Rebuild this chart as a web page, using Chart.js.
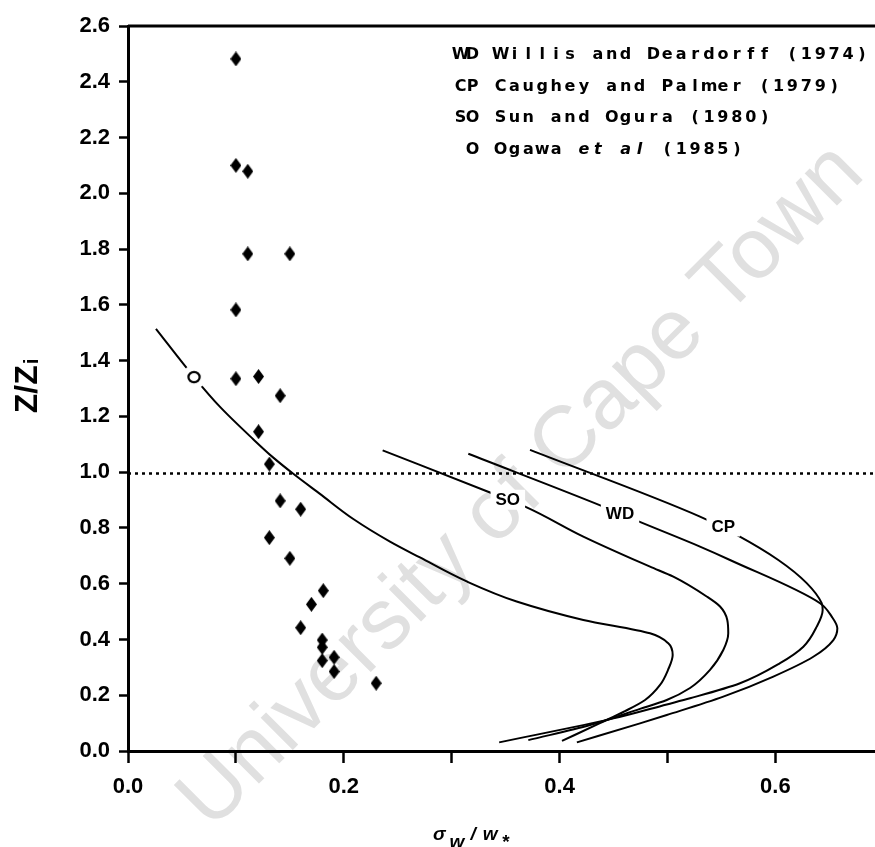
<!DOCTYPE html>
<html>
<head>
<meta charset="utf-8">
<script src="https://cdn.jsdelivr.net/npm/chart.js@4.4.1/dist/chart.umd.min.js"></script>
<style>
  html, body { margin: 0; padding: 0; background: #fff; }
  #wrap { width: 875px; height: 847px; }
</style>
</head>
<body>
<div id="wrap"><canvas id="c" width="875" height="847"></canvas></div>
<script>
// Observed vertical-velocity spread (diamonds): sigma_w / w* against z / z_i
const obsSigma  = [0.100, 0.100, 0.111, 0.111, 0.150, 0.100, 0.100, 0.121, 0.141, 0.121, 0.131, 0.141,
                   0.160, 0.131, 0.150, 0.181, 0.170, 0.160, 0.180, 0.180, 0.180, 0.191, 0.191, 0.230];
const obsHeight = [2.482, 2.100, 2.079, 1.783, 1.783, 1.582, 1.335, 1.343, 1.274, 1.145, 1.029, 0.897,
                   0.867, 0.765, 0.691, 0.575, 0.526, 0.442, 0.398, 0.372, 0.324, 0.336, 0.285, 0.243];

// Ogawa et al (1985)
const ogawaSigma = [0.0259, 0.0612, 0.0853, 0.1158, 0.1344, 0.1529, 0.1779, 0.2088, 0.2428, 0.2706, 0.3139,
                    0.3602, 0.4220, 0.4838, 0.5005, 0.5048, 0.5005, 0.4931, 0.4792, 0.4606, 0.4374, 0.4022];
const ogawaZ     = [1.514, 1.341, 1.234, 1.119, 1.053, 0.995, 0.922, 0.832, 0.751, 0.694, 0.608,
                    0.536, 0.470, 0.422, 0.387, 0.344, 0.291, 0.237, 0.183, 0.143, 0.100, 0.036];
const ogawaMark  = [0.0612, 1.341];

// Sun and Ogura (1980)
const soSigma = [0.236, 0.3355, 0.3695, 0.4220, 0.4838, 0.5054, 0.5363, 0.5487, 0.5554, 0.5563, 0.5517,
                 0.5394, 0.5209, 0.4993, 0.4745, 0.4282, 0.371];
const soZ     = [1.078, 0.927, 0.874, 0.769, 0.661, 0.625, 0.554, 0.518, 0.470, 0.422, 0.362,
                 0.291, 0.226, 0.183, 0.151, 0.093, 0.039];

// Willis and Deardorff (1974)
const wdSigma = [0.3154, 0.4405, 0.4715, 0.5301, 0.5579, 0.6413, 0.6522, 0.6574, 0.6537, 0.6351, 0.5981,
                 0.5517, 0.4993, 0.4745, 0.416];
const wdZ     = [1.066, 0.8765, 0.826, 0.733, 0.685, 0.530, 0.482, 0.440, 0.398, 0.338, 0.267,
                 0.195, 0.129, 0.099, 0.031];

// Caughey and Palmer (1979)
const cpSigma = [0.3726, 0.5301, 0.5641, 0.6027, 0.629, 0.6429, 0.6438, 0.6383, 0.6259, 0.6043, 0.5672,
                 0.5209, 0.4993, 0.450, 0.344];
const cpZ     = [1.080, 0.8407, 0.775, 0.685, 0.602, 0.530, 0.506, 0.446, 0.374, 0.315, 0.243,
                 0.189, 0.167, 0.117, 0.031];

// Inversion level (dotted line)
const inversionZ = 0.995;

// Axis ranges and ticks
const xMin = 0, xMax = 0.6923, xStep = 0.1;
const yMin = 0, yMax = 2.6, yStep = 0.2;

// In-plot curve tags: [text, sigma, z]
const curveTags = [['SO', 0.352, 0.901], ['WD', 0.456, 0.853], ['CP', 0.5517, 0.805]];

// Key in the upper right
const keyCodes = ['WD', 'CP', 'SO', 'O'];
const keyNames = ['Willis and Deardorff (1974)', 'Caughey and Palmer (1979)', 'Sun and Ogura (1980)', 'Ogawa |et al| (1985)'];

const pairs = (xs, ys) => xs.map((v, i) => ({ x: v, y: ys[i] }));

// Tall filled diamond marker
const diamond = (() => {
  const c = document.createElement('canvas');
  c.width = 11; c.height = 15;
  const g = c.getContext('2d');
  g.fillStyle = '#000';
  g.beginPath();
  g.moveTo(5.5, 0); g.lineTo(11, 7.5); g.lineTo(5.5, 15); g.lineTo(0, 7.5);
  g.closePath(); g.fill();
  return c;
})();

// Open "O" marker with a white halo that breaks the curve around it
const ringMark = (() => {
  const c = document.createElement('canvas');
  c.width = 26; c.height = 26;
  const g = c.getContext('2d');
  g.fillStyle = '#fff';
  g.beginPath(); g.arc(13, 13, 12, 0, Math.PI * 2); g.fill();
  g.strokeStyle = '#000'; g.lineWidth = 2.2;
  g.beginPath(); g.ellipse(13, 13, 5.6, 5.2, 0, 0, Math.PI * 2); g.stroke();
  return c;
})();

// Profiles are single-valued in height, so interpolate along the y axis
const curveStyle = {
  type: 'line', indexAxis: 'y', cubicInterpolationMode: 'monotone',
  borderColor: '#000', borderWidth: 2, pointRadius: 0, fill: false
};

const tickFont = { family: 'Liberation Sans', size: 22, weight: 'bold' };

const decorations = {
  id: 'decorations',
  beforeDraw(chart) {
    const ctx = chart.ctx;
    ctx.save();
    ctx.fillStyle = '#fff';
    ctx.fillRect(0, 0, chart.width, chart.height);
    // faint repository watermark
    ctx.translate(522, 487);
    ctx.rotate(-Math.PI / 4);
    ctx.fillStyle = 'rgb(224,224,224)';
    ctx.font = '86px "Liberation Sans"';
    ctx.textAlign = 'center';
    ctx.textBaseline = 'middle';
    ctx.fillText('University of Cape Town', 0, 0);
    ctx.restore();
  },
  afterDatasetsDraw(chart) {
    const ctx = chart.ctx;
    const xs = chart.scales.x, ys = chart.scales.y;
    ctx.save();
    // tags sitting in gaps of the model curves
    ctx.font = 'bold 17px "Liberation Sans"';
    ctx.textAlign = 'center';
    ctx.textBaseline = 'middle';
    curveTags.forEach(([t, sx, sz]) => {
      const px = xs.getPixelForValue(sx), py = ys.getPixelForValue(sz);
      const w = ctx.measureText(t).width + 10;
      ctx.fillStyle = '#fff';
      ctx.fillRect(px - w / 2, py - 10, w, 20);
      ctx.fillStyle = '#000';
      ctx.fillText(t, px, py + 1);
    });
    ctx.restore();
  },
  afterDraw(chart) {
    const ctx = chart.ctx;
    const a = chart.chartArea;
    const ys = chart.scales.y;
    ctx.save();
    // top frame line
    const yt = ys.getPixelForValue(yMax);
    ctx.strokeStyle = '#000';
    ctx.lineWidth = 3;
    ctx.beginPath(); ctx.moveTo(a.left, yt); ctx.lineTo(a.right, yt); ctx.stroke();

    // key, fixed-pitch lettering
    ctx.fillStyle = '#000';
    ctx.textBaseline = 'alphabetic';
    ctx.textAlign = 'center';
    const pitch = 13.9, codePitch = 12;
    keyCodes.forEach((code, r) => {
      const base = 59 + r * 31.7;
      ctx.font = 'bold 16px "DejaVu Sans"';
      for (let i = 0; i < code.length; i++) {
        const cx = 478 - (code.length - 1 - i) * codePitch - 5.5;
        ctx.fillText(code[i], cx, base);
      }
      const parts = keyNames[r].split('|');
      let k = 0;
      parts.forEach((part, pi) => {
        ctx.font = (pi % 2 === 1 ? 'italic ' : '') + 'bold 16px "DejaVu Sans"';
        for (let i = 0; i < part.length; i++, k++) {
          ctx.fillText(part[i], 495 + k * pitch + 5.5, base);
        }
      });
    });

    // y title: z / z_i
    ctx.save();
    ctx.translate(37, 386);
    ctx.rotate(-Math.PI / 2);
    ctx.textAlign = 'left';
    ctx.font = 'bold 32px "Liberation Sans"';
    const main = 'Z/Z';
    const wm = ctx.measureText(main).width;
    ctx.font = 'bold 20px "Liberation Sans"';
    const wi = ctx.measureText('i').width;
    const x0 = -(wm + wi + 1) / 2;
    ctx.font = 'bold 32px "Liberation Sans"';
    ctx.fillText(main, x0, 0);
    ctx.font = 'bold 20px "Liberation Sans"';
    ctx.fillText('i', x0 + wm + 1, 1);
    ctx.restore();

    // x title: sigma_w / w_*
    ctx.textAlign = 'left';
    let tx = 433;
    ctx.font = 'italic bold 19px "Liberation Sans"';
    const seq = [['σ', 0, 4], ['w', 8, 6], ['/', 0, 7], ['w', 0, 4], ['*', 8, 0]];
    seq.forEach(([ch, dy, gap]) => {
      ctx.fillText(ch, tx, 840 + dy);
      tx += ctx.measureText(ch).width + gap;
    });
    ctx.restore();
  }
};

new Chart(document.getElementById('c'), {
  type: 'scatter',
  data: {
    datasets: [
      { label: 'Ogawa marker', data: [{ x: ogawaMark[0], y: ogawaMark[1] }], pointStyle: ringMark, pointRadius: 13, order: 0 },
      { label: 'Observed', data: pairs(obsSigma, obsHeight), pointStyle: diamond, pointRadius: 7, order: 1 },
      Object.assign({ label: 'Ogawa et al (1985)', data: pairs(ogawaSigma, ogawaZ), order: 2 }, curveStyle),
      Object.assign({ label: 'Sun and Ogura (1980)', data: pairs(soSigma, soZ), order: 3 }, curveStyle),
      Object.assign({ label: 'Willis and Deardorff (1974)', data: pairs(wdSigma, wdZ), order: 4 }, curveStyle),
      Object.assign({ label: 'Caughey and Palmer (1979)', data: pairs(cpSigma, cpZ), order: 5 }, curveStyle),
      { type: 'line', label: 'z = z_i', data: [{ x: xMin, y: inversionZ }, { x: xMax, y: inversionZ }],
        borderColor: '#000', borderWidth: 2.6, borderDash: [3, 4], pointRadius: 0, order: 6 }
    ]
  },
  options: {
    responsive: false,
    animation: false,
    events: [],
    layout: { autoPadding: false, padding: { top: 26, right: 0, bottom: 0, left: 0 } },
    plugins: { legend: { display: false }, tooltip: { enabled: false } },
    scales: {
      x: {
        type: 'linear', min: xMin, max: xMax,
        ticks: {
          stepSize: xStep, includeBounds: false, autoSkip: false, maxRotation: 0, padding: 11,
          color: '#000', font: tickFont,
          callback: v => (Math.round(v * 10) % 2 === 0 ? v.toFixed(1) : '')
        },
        grid: { drawOnChartArea: false, drawTicks: true, tickLength: 12, tickWidth: 2.5, tickColor: '#000' },
        border: { display: true, color: '#000', width: 3 },
        afterFit: s => { s.height = 96; s.paddingRight = 0; }
      },
      y: {
        type: 'linear', min: yMin, max: yMax,
        ticks: {
          stepSize: yStep, autoSkip: false, padding: 9, color: '#000', font: tickFont,
          callback: v => v.toFixed(1)
        },
        grid: { drawOnChartArea: false, drawTicks: true, tickLength: 9, tickWidth: 2.5, tickColor: '#000' },
        border: { display: true, color: '#000', width: 3 },
        afterFit: s => { s.width = 128; }
      }
    }
  },
  plugins: [decorations]
});
</script>
</body>
</html>
